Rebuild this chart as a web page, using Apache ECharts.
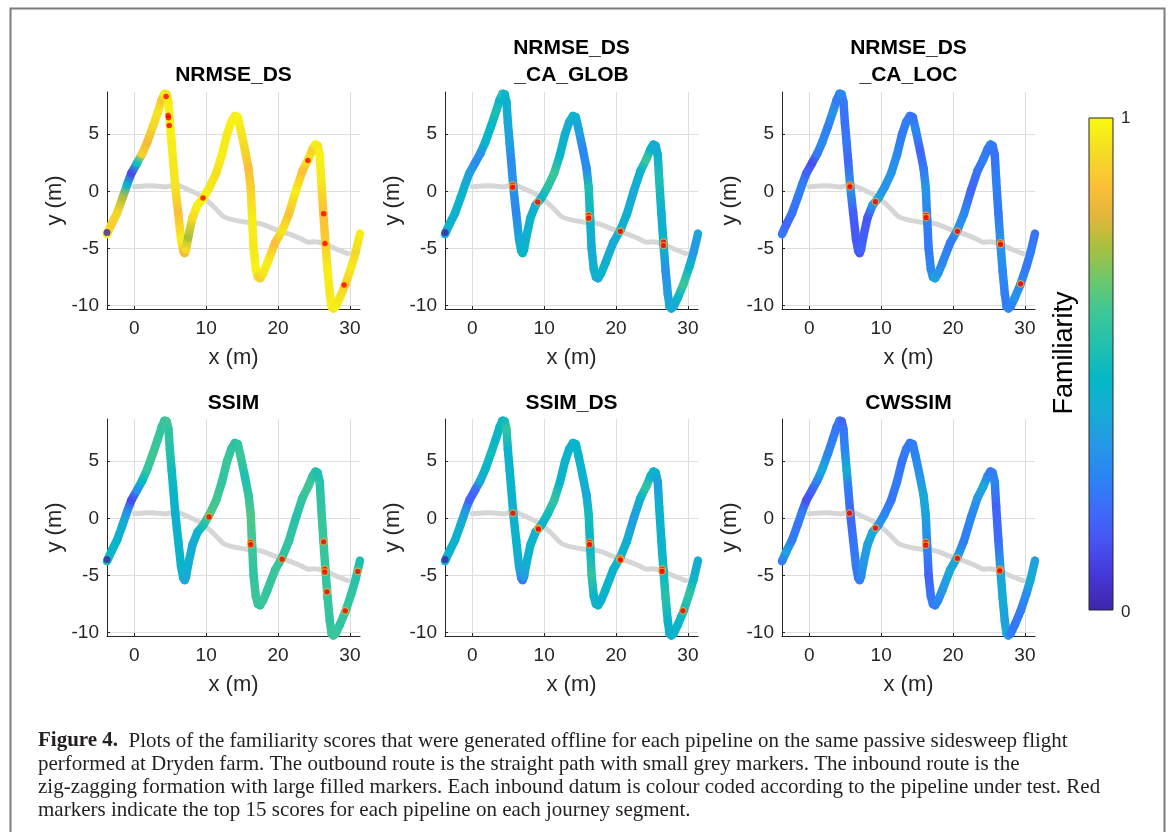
<!DOCTYPE html>
<html><head><meta charset="utf-8">
<script src="https://cdn.jsdelivr.net/npm/echarts@6/dist/echarts.min.js"></script>
<style>html,body{margin:0;padding:0;background:#fff}#c{width:1171px;height:832px}</style>
</head><body><div id="c"></div>
<script>
// ---------- DATA ----------
const titles = ['NRMSE_DS', 'NRMSE_DS\n_CA_GLOB', 'NRMSE_DS\n_CA_LOC', 'SSIM', 'SSIM_DS', 'CWSSIM'];
const xTicks = [0, 10, 20, 30];
const yTicks = [-10, -5, 0, 5];
const colorbarTicks = ['0', '1'];

// inbound (zig-zag) route
const pathX = [-3.8,-3.2,-2.4,-1.6,-1.0,-0.4,0.4,1.1,1.8,2.6,3.3,3.8,4.2,4.5,4.75,4.95,5.2,5.4,5.7,6.1,6.5,6.8,7.0,7.2,7.5,8.1,8.8,9.6,10.5,11.4,12.2,12.9,13.5,14.0,14.4,14.8,15.4,15.9,16.2,16.4,16.6,16.9,17.2,17.5,17.9,18.5,19.6,20.6,21.5,22.5,23.4,24.2,24.8,25.2,25.5,25.8,26.0,26.3,26.6,26.9,27.2,27.45,27.7,28.0,28.6,29.4,30.2,30.8,31.4];
const pathY = [-3.75,-2.9,-1.9,-0.5,0.6,1.6,2.5,3.3,4.3,5.7,7.0,8.0,8.55,8.5,7.8,6.0,4.2,2.7,0.4,-1.9,-4.2,-5.2,-5.4,-5.1,-4.0,-2.3,-1.2,-0.6,0.4,1.6,3.2,5.0,6.1,6.6,6.5,5.4,3.6,2.0,0.3,-2.5,-5.0,-6.8,-7.5,-7.6,-7.2,-6.3,-4.5,-3.4,-2.0,0.1,1.8,2.8,3.7,4.1,4.0,3.2,1.0,-1.9,-4.6,-7.0,-9.0,-10.1,-10.25,-10.1,-9.3,-8.1,-6.6,-5.3,-3.7];

// familiarity per inbound datum, one list per pipeline
const famNRMSE_DS = [0.96,0.9,0.92,0.75,0.45,0.12,0.5,0.9,0.84,0.92,0.95,0.88,0.97,0.95,0.97,0.98,0.97,0.96,0.95,0.86,0.97,0.88,0.84,0.93,0.74,0.93,0.97,0.98,0.96,0.94,0.97,0.96,0.98,0.97,0.98,0.96,0.92,0.86,0.9,0.97,0.96,0.98,0.93,0.9,0.95,0.97,0.86,0.95,0.87,0.97,0.86,0.96,0.9,0.97,0.96,0.98,0.96,0.86,0.9,0.97,0.96,0.98,0.96,0.97,0.95,0.9,0.96,0.92,0.97];
const famNRMSE_DS_CA_GLOB = [0.4,0.45,0.43,0.45,0.42,0.37,0.3,0.32,0.45,0.47,0.52,0.45,0.56,0.45,0.43,0.4,0.36,0.3,0.32,0.28,0.4,0.45,0.48,0.45,0.43,0.45,0.4,0.45,0.56,0.6,0.45,0.43,0.4,0.45,0.43,0.38,0.28,0.3,0.52,0.45,0.4,0.43,0.45,0.4,0.45,0.43,0.4,0.45,0.42,0.4,0.45,0.6,0.45,0.43,0.4,0.42,0.52,0.43,0.45,0.32,0.36,0.4,0.43,0.4,0.45,0.6,0.45,0.34,0.38];
const famNRMSE_DS_CA_LOC = [0.24,0.19,0.22,0.24,0.26,0.19,0.13,0.24,0.29,0.26,0.32,0.24,0.26,0.29,0.24,0.22,0.24,0.19,0.33,0.17,0.15,0.18,0.15,0.18,0.17,0.15,0.33,0.38,0.32,0.33,0.29,0.24,0.26,0.24,0.22,0.29,0.19,0.24,0.33,0.26,0.24,0.29,0.33,0.38,0.33,0.29,0.24,0.33,0.29,0.19,0.22,0.26,0.24,0.26,0.24,0.22,0.26,0.24,0.33,0.29,0.26,0.24,0.29,0.26,0.32,0.29,0.24,0.26,0.22];
const famSSIM = [0.52,0.47,0.44,0.42,0.32,0.12,0.32,0.48,0.58,0.61,0.59,0.58,0.58,0.61,0.58,0.55,0.5,0.46,0.43,0.45,0.46,0.43,0.39,0.41,0.43,0.41,0.44,0.53,0.63,0.61,0.58,0.6,0.58,0.55,0.58,0.6,0.53,0.58,0.63,0.6,0.58,0.6,0.59,0.58,0.6,0.58,0.6,0.58,0.58,0.55,0.58,0.61,0.58,0.55,0.53,0.55,0.58,0.6,0.58,0.59,0.58,0.6,0.58,0.6,0.58,0.59,0.58,0.55,0.53];
const famSSIM_DS = [0.42,0.45,0.44,0.42,0.35,0.18,0.2,0.4,0.45,0.5,0.45,0.48,0.45,0.5,0.58,0.45,0.44,0.45,0.42,0.45,0.4,0.3,0.25,0.35,0.42,0.45,0.44,0.45,0.5,0.58,0.45,0.44,0.45,0.42,0.45,0.45,0.44,0.4,0.5,0.45,0.58,0.45,0.44,0.45,0.42,0.45,0.44,0.45,0.42,0.35,0.45,0.58,0.45,0.44,0.45,0.35,0.44,0.45,0.48,0.55,0.45,0.44,0.45,0.44,0.45,0.5,0.58,0.45,0.42];
const famCWSSIM = [0.25,0.37,0.25,0.23,0.25,0.14,0.18,0.28,0.4,0.28,0.25,0.23,0.25,0.18,0.23,0.28,0.42,0.25,0.18,0.23,0.25,0.23,0.25,0.28,0.33,0.37,0.4,0.33,0.28,0.23,0.25,0.23,0.25,0.23,0.25,0.28,0.33,0.4,0.37,0.28,0.18,0.23,0.25,0.25,0.28,0.33,0.4,0.37,0.25,0.28,0.33,0.4,0.28,0.23,0.25,0.28,0.18,0.21,0.37,0.42,0.37,0.4,0.33,0.25,0.23,0.25,0.31,0.42,0.37];

// outbound (straight) route
const outX = [0,1,2.2,3.3,4.3,5.2,5.9,6.6,7.3,8.7,10.1,11.3,12.4,13.8,15.7,17.6,19.5,21.4,23.2,24.2,25.1,26.5,27.9,29.7];
const outY = [0.4,0.45,0.5,0.45,0.38,0.5,0.58,0.4,0.2,-0.2,-0.8,-1.5,-2.2,-2.5,-2.7,-2.85,-3.3,-3.7,-4.15,-4.45,-4.42,-4.6,-5.0,-5.45];

// top-15 (red) markers per pipeline
const redNRMSE_DS = [[4.43,8.31],[4.71,6.65],[4.76,6.45],[4.85,5.77],[9.56,-0.58],[24.15,2.71],[26.34,-1.95],[26.53,-4.57],[29.19,-8.2]];
const redNRMSE_DS_CA_GLOB = [[5.6,0.55],[5.62,0.35],[9.1,-0.93],[16.2,-2.1],[16.2,-2.35],[20.6,-3.5],[26.6,-4.45],[26.6,-4.75]];
const redNRMSE_DS_CA_LOC = [[5.65,0.55],[5.65,0.4],[9.2,-0.9],[16.25,-2.1],[16.25,-2.3],[20.6,-3.5],[26.6,-4.5],[26.6,-4.65],[29.4,-8.1]];
const redSSIM = [[10.4,0.13],[16.2,-2.1],[16.2,-2.3],[20.56,-3.57],[26.34,-2.05],[26.5,-4.45],[26.5,-4.7],[26.8,-6.43],[29.35,-8.1],[31.1,-4.65]];
const redSSIM_DS = [[5.65,0.45],[9.14,-0.85],[9.2,-0.95],[16.3,-2.1],[16.3,-2.3],[20.56,-3.5],[20.6,-3.65],[26.4,-4.45],[26.4,-4.65],[29.3,-8.1]];
const redCWSSIM = [[5.6,0.45],[9.2,-0.85],[16.2,-2.1],[16.2,-2.35],[20.6,-3.5],[26.5,-4.45],[26.5,-4.6]];

const captionLines = [
  'Plots of the familiarity scores that were generated offline for each pipeline on the same passive sidesweep flight',
  'performed at Dryden farm. The outbound route is the straight path with small grey markers. The inbound route is the',
  'zig-zagging formation with large filled markers. Each inbound datum is colour coded according to the pipeline under test. Red',
  'markers indicate the top 15 scores for each pipeline on each journey segment.'
];
const captionLabel = 'Figure 4.';
const colorbarLabel = 'Familiarity';

// ---------- STYLE ----------
const PARULA = [[0,'#3e26a8'],[0.07,'#4636d8'],[0.14,'#4754f2'],[0.2,'#3f6afb'],[0.27,'#2b84f3'],[0.33,'#2696e8'],[0.4,'#18aad6'],[0.47,'#04b8c6'],[0.53,'#1fbfb0'],[0.6,'#3ac69a'],[0.67,'#6cc86c'],[0.74,'#abbf3e'],[0.8,'#e3b63a'],[0.86,'#fcbf37'],[0.93,'#f4dc24'],[1,'#f9fb0e']];
function hexToRgb(h){return [parseInt(h.slice(1,3),16),parseInt(h.slice(3,5),16),parseInt(h.slice(5,7),16)];}
function parula(v){
  v = Math.max(0, Math.min(1, v));
  for (let i = 1; i < PARULA.length; i++) {
    if (v <= PARULA[i][0]) {
      const a = PARULA[i-1], b = PARULA[i];
      const t = (v - a[0]) / (b[0] - a[0]);
      const ca = hexToRgb(a[1]), cb = hexToRgb(b[1]);
      return 'rgb(' + ca.map((c,k)=>Math.round(c + (cb[k]-c)*t)).join(',') + ')';
    }
  }
  return PARULA[PARULA.length-1][1];
}
const SANS = '"Liberation Sans", Arial, Helvetica, sans-serif';
const SERIF = '"Liberation Serif", "Times New Roman", serif';
const TXT = '#262626';
const CAP_FONT = 21;

const plots = [
  {fam: famNRMSE_DS, red: redNRMSE_DS, start: true, halo: false},
  {fam: famNRMSE_DS_CA_GLOB, red: redNRMSE_DS_CA_GLOB, start: true, halo: true},
  {fam: famNRMSE_DS_CA_LOC, red: redNRMSE_DS_CA_LOC, start: false, halo: true},
  {fam: famSSIM, red: redSSIM, start: true, halo: true},
  {fam: famSSIM_DS, red: redSSIM_DS, start: true, halo: true},
  {fam: famCWSSIM, red: redCWSSIM, start: false, halo: true}
];
const lefts = [107, 445, 782];
const tops = [92, 419];
const GW = 253, GH = 217;

const grid = [], xAxis = [], yAxis = [], series = [], title = [];
plots.forEach((p, i) => {
  const col = i % 3, row = Math.floor(i / 3);
  grid.push({left: lefts[col], top: tops[row], width: GW, height: GH, containLabel: false});
  xAxis.push({
    gridIndex: i, type: 'value', min: -3.8, max: 31.4,
    axisLine: {show: true, onZero: false, lineStyle: {color: TXT, width: 1}},
    axisTick: {show: true, inside: true, length: 3, customValues: xTicks, lineStyle: {color: TXT}},
    axisLabel: {customValues: xTicks, fontSize: 19, color: TXT, fontFamily: SANS, margin: 10},
    splitLine: {show: true, lineStyle: {color: '#dedede', width: 1}},
    name: 'x (m)', nameLocation: 'middle', nameGap: 38,
    nameTextStyle: {fontSize: 22, color: TXT, fontFamily: SANS}
  });
  yAxis.push({
    gridIndex: i, type: 'value', min: -10.3, max: 8.7,
    axisLine: {show: true, onZero: false, lineStyle: {color: TXT, width: 1}},
    axisTick: {show: true, inside: true, length: 3, customValues: yTicks, lineStyle: {color: TXT}},
    axisLabel: {customValues: yTicks, fontSize: 19, color: TXT, fontFamily: SANS, margin: 8},
    splitLine: {show: true, lineStyle: {color: '#dedede', width: 1}},
    name: 'y (m)', nameLocation: 'middle', nameGap: 41,
    nameTextStyle: {fontSize: 22, color: TXT, fontFamily: SANS}
  });
  const lines = titles[i].split('\n').length;
  title.push({
    text: titles[i], left: lefts[col] + GW / 2, textAlign: 'center', padding: 0,
    top: (row === 0 ? 75 : 403) - lines * 27 + 13.5,
    textStyle: {fontSize: 21, fontWeight: 'bold', color: '#000', fontFamily: SANS, lineHeight: 27}
  });
  // outbound route
  series.push({
    type: 'line', xAxisIndex: i, yAxisIndex: i, silent: true, z: 2,
    data: outX.map((x, k) => [x, outY[k]]), showSymbol: false, smooth: 0.3,
    lineStyle: {color: '#d6d6d6', width: 5, cap: 'round', join: 'round'}
  });
  // inbound route, coloured by familiarity
  const segs = [];
  for (let k = 0; k < pathX.length - 1; k++) {
    segs.push([pathX[k], pathY[k], pathX[k+1], pathY[k+1], p.fam[k], p.fam[k+1]]);
  }
  series.push({
    type: 'custom', xAxisIndex: i, yAxisIndex: i, silent: true, z: 3,
    encode: {x: [0, 2], y: [1, 3]},
    data: segs,
    renderItem: function (params, api) {
      const a = api.coord([api.value(0), api.value(1)]);
      const b = api.coord([api.value(2), api.value(3)]);
      const grad = new echarts.graphic.LinearGradient(a[0], a[1], b[0], b[1], [
        {offset: 0, color: parula(api.value(4))},
        {offset: 1, color: parula(api.value(5))}
      ], true);
      return {type: 'line', shape: {x1: a[0], y1: a[1], x2: b[0], y2: b[1]},
        style: {stroke: grad, lineWidth: 8.5, lineCap: 'round'}};
    }
  });
  series.push({
    type: 'scatter', xAxisIndex: i, yAxisIndex: i, silent: true, z: 4,
    data: p.red, symbolSize: p.halo ? 6.5 : 5.5,
    itemStyle: {color: '#ff0000', borderColor: p.halo ? 'rgba(235,205,50,0.9)' : 'rgba(0,0,0,0)', borderWidth: p.halo ? 1.2 : 0}
  });
  if (p.start) {
    series.push({
      type: 'scatter', xAxisIndex: i, yAxisIndex: i, silent: true, z: 5,
      data: [[pathX[0], pathY[0] + 0.15]], symbolSize: 7,
      itemStyle: {color: parula(0)}
    });
  }
});

const cbTop = 118, cbBottom = 610, cbLeft = 1089, cbW = 24;
const graphic = [
  {type: 'rect', left: 8, top: 6, shape: {x: 0, y: 0, width: 1154, height: 860},
   style: {fill: 'none', stroke: '#7d7d7d', lineWidth: 2}, silent: true, z: 0},
  {type: 'rect', x: cbLeft, y: cbTop, shape: {x: 0, y: 0, width: cbW, height: cbBottom - cbTop},
   style: {fill: new echarts.graphic.LinearGradient(0, 0, 0, 1, PARULA.map(s => ({offset: 1 - s[0], color: s[1]})).reverse()),
           stroke: TXT, lineWidth: 1}, silent: true},
  {type: 'text', x: cbLeft + cbW + 8, y: cbTop, style: {text: colorbarTicks[1], font: '17px ' + SANS, fill: TXT, textVerticalAlign: 'middle'}, silent: true},
  {type: 'text', x: cbLeft + cbW + 8, y: cbBottom + 2, style: {text: colorbarTicks[0], font: '17px ' + SANS, fill: TXT, textVerticalAlign: 'middle'}, silent: true},
  {type: 'text', x: 1065, y: 353, rotation: Math.PI / 2,
   style: {text: colorbarLabel, font: '27px ' + SANS, fill: '#000', textAlign: 'center', textVerticalAlign: 'middle'}, silent: true}
];
const capTops = [741, 764, 787, 810];
captionLines.forEach((t, k) => {
  graphic.push({
    type: 'text', x: 38, y: capTops[k], silent: true,
    style: k === 0 ? {
      text: '{b|' + captionLabel + '}  ' + t, font: CAP_FONT + 'px ' + SERIF, fill: '#231f20', textVerticalAlign: 'middle',
      rich: {b: {fontWeight: 'bold', fontSize: CAP_FONT, fontFamily: SERIF, fill: '#231f20'}}
    } : {text: t, font: CAP_FONT + 'px ' + SERIF, fill: '#231f20', textVerticalAlign: 'middle'}
  });
});

const chart = echarts.init(document.getElementById('c'), null, {renderer: 'canvas'});
chart.setOption({
  backgroundColor: '#ffffff',
  animation: false,
  title, grid, xAxis, yAxis, series, graphic
});
</script></body></html>
